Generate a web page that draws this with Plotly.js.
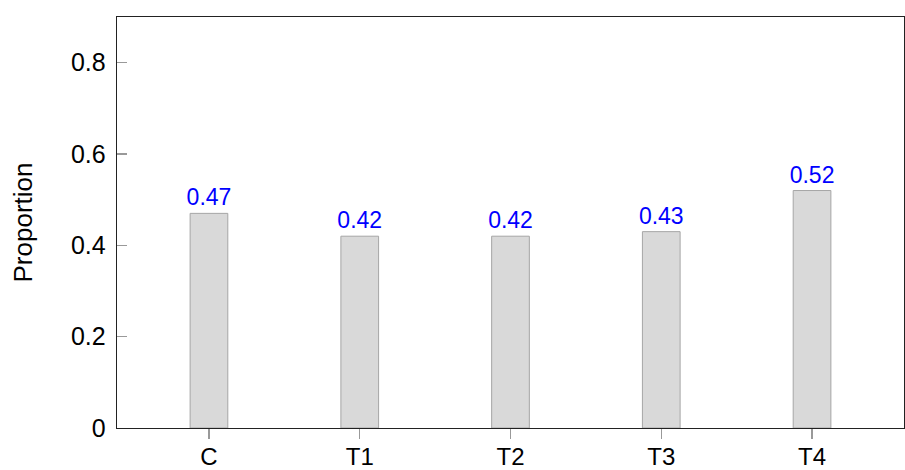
<!DOCTYPE html>
<html><head><meta charset="utf-8">
<script src="https://cdn.plot.ly/plotly-3.0.1.min.js"></script>
<style>body{margin:0;background:#fff}#chart{width:905px;height:470px}</style>
</head><body><div id="chart"></div>
<script>
var categories = ["C", "T1", "T2", "T3", "T4"];
var proportions = [0.47, 0.42, 0.42, 0.43, 0.52];
var labels = ["0.47", "0.42", "0.42", "0.43", "0.52"];
var yTickVals = [0, 0.2, 0.4, 0.6, 0.8];
var yTickText = ["0", "0.2", "0.4", "0.6", "0.8"];

var fontFam = "'Liberation Sans', Arial, sans-serif";
var trace = {
  type: "bar",
  x: categories,
  y: proportions,
  text: labels,
  textposition: "outside",
  constraintext: "none",
  cliponaxis: false,
  textfont: {color: "#0000ff", size: 23, family: fontFam},
  width: 0.25,
  marker: {color: "#d9d9d9", line: {color: "#a6a6a6", width: 1}},
  hoverinfo: "none"
};
var layout = {
  width: 905, height: 470,
  margin: {l: 117, r: 1, t: 17, b: 42},
  paper_bgcolor: "#fff", plot_bgcolor: "#fff",
  showlegend: false,
  font: {family: fontFam, size: 25, color: "#000"},
  xaxis: {
    type: "category",
    range: [-0.61, 4.61],
    showline: true, linecolor: "#222", linewidth: 1.3, mirror: true,
    ticks: "outside", ticklen: 10, tickcolor: "#999", tickwidth: 1.3,
    showgrid: false, zeroline: false,
    ticklabelstandoff: -3,
    tickfont: {size: 24, family: fontFam}
  },
  yaxis: {
    range: [0, 0.9],
    tickvals: yTickVals, ticktext: yTickText,
    showline: true, linecolor: "#222", linewidth: 1.3, mirror: true,
    ticks: "inside", ticklen: 10, tickcolor: "#999", tickwidth: 1.3,
    showgrid: false, zeroline: false,
    ticklabelstandoff: 5,
    tickfont: {size: 25, family: fontFam},
    title: {text: "Proportion", font: {size: 26, family: fontFam}, standoff: 30}
  }
};
Plotly.newPlot("chart", [trace], layout, {staticPlot: true});
</script></body></html>
